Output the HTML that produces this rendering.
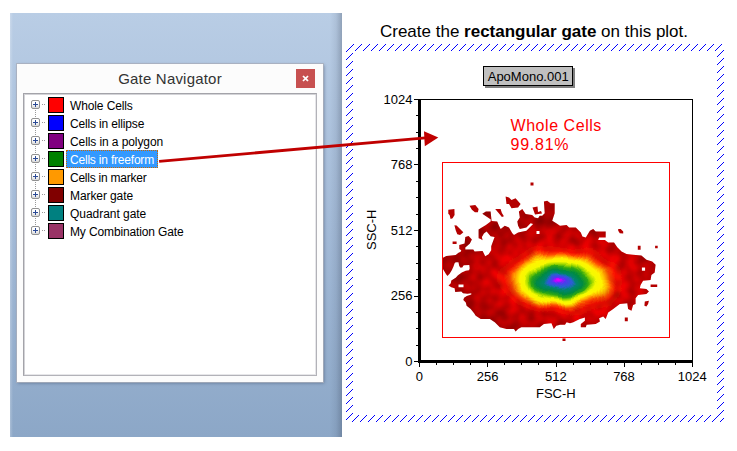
<!DOCTYPE html>
<html>
<head>
<meta charset="utf-8">
<style>
html,body{margin:0;padding:0;background:#fff;}
body{width:737px;height:451px;position:relative;overflow:hidden;font-family:"Liberation Sans",sans-serif;}
.abs{position:absolute;}
#bluebg{left:10px;top:13px;width:332px;height:424px;background:linear-gradient(to bottom,#b9cde5 0%,#a3bad7 50%,#8ca7c7 100%);}
#bluebg:after{content:"";position:absolute;right:0;top:0;width:12px;height:100%;background:linear-gradient(to right,rgba(40,50,70,0) 0%,rgba(40,50,70,0.08) 50%,rgba(40,50,70,0.28) 100%);}
#bluebg:before{content:"";position:absolute;left:0;top:0;width:3px;height:100%;background:linear-gradient(to right,rgba(255,255,255,0.25),rgba(255,255,255,0));}
#panel{left:17px;top:64px;width:306px;height:318px;background:#fcfcfc;box-shadow:0 0 0 1px rgba(170,175,188,0.8),1px 1px 3px rgba(40,55,85,0.5);}
#ptitle{left:17px;top:69px;width:306px;text-align:center;font-size:15px;line-height:20px;color:#333;letter-spacing:0.2px;}
#close{left:296px;top:69px;width:19px;height:19px;background:#c75050;}
#tree{left:23px;top:93px;width:292px;height:281px;background:#fff;border:1px solid #a3a3a9;border-right-color:#b2b2b8;border-bottom-color:#b2b2b8;box-shadow:inset 1px 1px 0 #d3d3d7, inset -1px -1px 0 #e6e6e9;}
.row{position:absolute;left:0;height:18px;width:300px;}
.sw{position:absolute;left:48px;width:14px;height:14px;border:1px solid #000;}
.lbl{position:absolute;left:70px;font-size:12px;line-height:18px;color:#000;white-space:nowrap;}
.plus{position:absolute;left:31px;width:7px;height:7px;border:1px solid #919191;border-radius:2px;background:linear-gradient(to bottom,#fff 0%,#fff 40%,#d8d8d8 100%);}
.plus:before{content:"";position:absolute;left:1px;top:3px;width:5px;height:1px;background:#2b4a96;}
.plus:after{content:"";position:absolute;left:3px;top:1px;width:1px;height:5px;background:#2b4a96;}
</style>
</head>
<body>
<div id="bluebg" class="abs"></div>
<div id="panel" class="abs"></div>
<div id="ptitle" class="abs">Gate Navigator</div>
<div id="close" class="abs"><svg width="19" height="19" style="display:block"><path d="M7.6 7.6 L11.4 11.4 M11.4 7.6 L7.6 11.4" stroke="#fff" stroke-width="1.7" stroke-linecap="square"/></svg></div>
<div id="tree" class="abs"></div>
<!--ROWS--><svg class="abs" style="left:0;top:0" width="340" height="400" shape-rendering="crispEdges"><rect x="42" y="104" width="1" height="1" fill="#9a9a9a"/><rect x="44" y="104" width="1" height="1" fill="#9a9a9a"/><rect x="35" y="110" width="1" height="1" fill="#9a9a9a"/><rect x="35" y="112" width="1" height="1" fill="#9a9a9a"/><rect x="35" y="114" width="1" height="1" fill="#9a9a9a"/><rect x="35" y="116" width="1" height="1" fill="#9a9a9a"/><rect x="42" y="122" width="1" height="1" fill="#9a9a9a"/><rect x="44" y="122" width="1" height="1" fill="#9a9a9a"/><rect x="35" y="128" width="1" height="1" fill="#9a9a9a"/><rect x="35" y="130" width="1" height="1" fill="#9a9a9a"/><rect x="35" y="132" width="1" height="1" fill="#9a9a9a"/><rect x="35" y="134" width="1" height="1" fill="#9a9a9a"/><rect x="42" y="140" width="1" height="1" fill="#9a9a9a"/><rect x="44" y="140" width="1" height="1" fill="#9a9a9a"/><rect x="35" y="146" width="1" height="1" fill="#9a9a9a"/><rect x="35" y="148" width="1" height="1" fill="#9a9a9a"/><rect x="35" y="150" width="1" height="1" fill="#9a9a9a"/><rect x="35" y="152" width="1" height="1" fill="#9a9a9a"/><rect x="42" y="158" width="1" height="1" fill="#9a9a9a"/><rect x="44" y="158" width="1" height="1" fill="#9a9a9a"/><rect x="35" y="164" width="1" height="1" fill="#9a9a9a"/><rect x="35" y="166" width="1" height="1" fill="#9a9a9a"/><rect x="35" y="168" width="1" height="1" fill="#9a9a9a"/><rect x="35" y="170" width="1" height="1" fill="#9a9a9a"/><rect x="42" y="176" width="1" height="1" fill="#9a9a9a"/><rect x="44" y="176" width="1" height="1" fill="#9a9a9a"/><rect x="35" y="182" width="1" height="1" fill="#9a9a9a"/><rect x="35" y="184" width="1" height="1" fill="#9a9a9a"/><rect x="35" y="186" width="1" height="1" fill="#9a9a9a"/><rect x="35" y="188" width="1" height="1" fill="#9a9a9a"/><rect x="42" y="194" width="1" height="1" fill="#9a9a9a"/><rect x="44" y="194" width="1" height="1" fill="#9a9a9a"/><rect x="35" y="200" width="1" height="1" fill="#9a9a9a"/><rect x="35" y="202" width="1" height="1" fill="#9a9a9a"/><rect x="35" y="204" width="1" height="1" fill="#9a9a9a"/><rect x="35" y="206" width="1" height="1" fill="#9a9a9a"/><rect x="42" y="212" width="1" height="1" fill="#9a9a9a"/><rect x="44" y="212" width="1" height="1" fill="#9a9a9a"/><rect x="35" y="218" width="1" height="1" fill="#9a9a9a"/><rect x="35" y="220" width="1" height="1" fill="#9a9a9a"/><rect x="35" y="222" width="1" height="1" fill="#9a9a9a"/><rect x="35" y="224" width="1" height="1" fill="#9a9a9a"/><rect x="42" y="230" width="1" height="1" fill="#9a9a9a"/><rect x="44" y="230" width="1" height="1" fill="#9a9a9a"/></svg>
<div class="plus" style="top:100px"></div><div class="sw" style="top:97px;background:#ff0000"></div><div class="lbl" id="l0" style="top:97px;letter-spacing:-0.12px;">Whole Cells</div>
<div class="plus" style="top:118px"></div><div class="sw" style="top:115px;background:#0000ff"></div><div class="lbl" id="l1" style="top:115px;letter-spacing:-0.16px;">Cells in ellipse</div>
<div class="plus" style="top:136px"></div><div class="sw" style="top:133px;background:#800080"></div><div class="lbl" id="l2" style="top:133px;letter-spacing:-0.09px;">Cells in a polygon</div>
<div class="plus" style="top:154px"></div><div class="sw" style="top:151px;background:#008000"></div><div class="abs" style="left:66px;top:150px;width:92px;height:18px;background:#3399ff;box-sizing:border-box;border:1px dotted #cc6600"></div><div class="lbl" id="l3" style="top:151px;letter-spacing:-0.2px;color:#fff;">Cells in freeform</div>
<div class="plus" style="top:172px"></div><div class="sw" style="top:169px;background:#ff9900"></div><div class="lbl" id="l4" style="top:169px;letter-spacing:-0.24px;">Cells in marker</div>
<div class="plus" style="top:190px"></div><div class="sw" style="top:187px;background:#800000"></div><div class="lbl" id="l5" style="top:187px;letter-spacing:-0.09px;">Marker gate</div>
<div class="plus" style="top:208px"></div><div class="sw" style="top:205px;background:#008080"></div><div class="lbl" id="l6" style="top:205px;letter-spacing:-0.04px;">Quadrant gate</div>
<div class="plus" style="top:226px"></div><div class="sw" style="top:223px;background:#993366"></div><div class="lbl" id="l7" style="top:223px;letter-spacing:-0.13px;">My Combination Gate</div><!--/ROWS-->
<!--PLOT--><svg class="abs" style="left:0;top:0" width="737" height="451" viewBox="0 0 737 451">
<defs>
<pattern id="hatch" patternUnits="userSpaceOnUse" x="0" y="0" width="8" height="8"><g fill="#0000ff" shape-rendering="crispEdges"><rect x="0" y="5" width="1" height="1"/><rect x="1" y="4" width="1" height="1"/><rect x="2" y="3" width="1" height="1"/><rect x="3" y="2" width="1" height="1"/><rect x="4" y="1" width="1" height="1"/><rect x="5" y="0" width="1" height="1"/><rect x="6" y="7" width="1" height="1"/><rect x="7" y="6" width="1" height="1"/></g></pattern>
<radialGradient id="dens" gradientUnits="userSpaceOnUse" cx="2.5" cy="-9" fx="0" fy="0" r="100" gradientTransform="translate(559.3 282.9) rotate(2) scale(1.06 0.57)">
<stop offset="0" stop-color="#f000ff"/>
<stop offset="0.025" stop-color="#c800ff"/>
<stop offset="0.06" stop-color="#5038f0"/>
<stop offset="0.105" stop-color="#2860d0"/>
<stop offset="0.14" stop-color="#008470"/>
<stop offset="0.20" stop-color="#008a40"/>
<stop offset="0.264" stop-color="#30a810"/>
<stop offset="0.305" stop-color="#a0d800"/>
<stop offset="0.345" stop-color="#f4fa00"/>
<stop offset="0.39" stop-color="#fff400"/>
<stop offset="0.43" stop-color="#ffb000"/>
<stop offset="0.475" stop-color="#ff4c00"/>
<stop offset="0.53" stop-color="#f81000"/>
<stop offset="0.64" stop-color="#ec0000"/>
<stop offset="0.78" stop-color="#d80000"/>
<stop offset="0.92" stop-color="#c60000"/>
<stop offset="1.05" stop-color="#b80000"/>
</radialGradient>
<filter id="wob" filterUnits="userSpaceOnUse" x="430" y="170" width="250" height="180"><feTurbulence type="fractalNoise" baseFrequency="0.055" numOctaves="1" seed="7" result="n"/><feDisplacementMap in="SourceGraphic" in2="n" scale="11" xChannelSelector="R" yChannelSelector="G"/></filter>
<filter id="mot" filterUnits="userSpaceOnUse" x="425" y="165" width="260" height="190" color-interpolation-filters="sRGB"><feTurbulence type="fractalNoise" baseFrequency="0.11" numOctaves="1" seed="3"/><feColorMatrix type="matrix" values="0 0 0 0 0  0 0 0 0 0  0 0 0 0 0  0.55 0 0 0 -0.17"/></filter>
<radialGradient id="mg" gradientUnits="userSpaceOnUse" cx="560" cy="279" r="100" gradientTransform="translate(560 279) scale(0.62 0.36) translate(-560 -279)"><stop offset="0.7" stop-color="#000"/><stop offset="1.4" stop-color="#fff"/></radialGradient><mask id="redonly" maskUnits="userSpaceOnUse" x="425" y="165" width="260" height="190"><rect x="425" y="165" width="260" height="190" fill="url(#mg)"/></mask>
<clipPath id="blobclip"><path d="M443,268.9 L443,257.8 L446.3,256.1 L455.7,255 L458.5,252.8 L460.7,251.7 L461.3,250.2 L459.3,248.9 L459.3,244.9 L464.6,243.6 L465.3,236.9 L468.6,235.9 L471.9,239.6 L469.9,243.6 L465.3,247.6 L465.3,249.6 L473.3,249.6 L474.6,251.6 L482.6,250.9 L485.2,256.2 L488.6,254.2 L491.2,250.2 L491.2,246.3 L494.6,236.9 L490.6,236.3 L486.6,231.6 L483.9,233.6 L481.9,236.9 L482.6,240.3 L480.6,238.9 L478.6,238.3 L478.6,229.6 L482.6,227 L485.9,225 L490.6,221.6 L490.8,219.6 L482.3,213.7 L485.9,211.4 L490.6,211.4 L491.6,221 L497.2,221.6 L499,225.7 L500.7,229 L504.8,225.7 L509,227.4 L512.3,233.2 L514,234.9 L518.1,232.4 L526.4,230.7 L533.1,224.1 L530.6,223.2 L526.4,227.4 L519.8,229 L518.1,225.7 L517.3,221.6 L519.8,217.4 L518.9,211.6 L522.3,209.1 L525.6,214.1 L532.2,214.9 L534.7,217.4 L538.1,218.3 L539.7,215.8 L542.2,215.8 L544.7,213.3 L543.9,201.6 L547.2,200.8 L550.5,203.3 L554.7,203.3 L554.7,213.3 L552.2,220.7 L556.3,223.2 L560,225.7 L566.6,224.9 L569.1,227.4 L575.8,227.4 L580.8,232.4 L582.4,236.5 L585.8,237.4 L589.9,230.7 L593.2,229 L595.7,231.5 L605.7,231.5 L605.7,237.4 L599.1,237.4 L598.2,239.9 L604.9,239.9 L608.2,242.4 L614,242.4 L617.3,247.3 L621.5,251.5 L626.5,254 L633.1,254.8 L641.4,255.6 L646.4,259.8 L652.2,261.5 L655.6,264.8 L654.7,272.5 L651.4,275 L650.6,280 L643.1,280.8 L640.6,284.9 L639.8,288.3 L646.4,289.1 L648.9,291.6 L646.4,294.1 L638.1,294.9 L635.6,298.2 L635.6,304.1 L633.1,304.9 L631.5,310.7 L628.1,309 L627.3,303.2 L619.8,304.1 L613.2,309 L608.2,312.4 L605.7,319 L603.2,316.5 L599.1,318.2 L599.9,321.5 L595.7,324 L586.6,324.8 L585.8,327.3 L580.8,327.3 L580.8,324 L584.9,320.7 L584.9,317.4 L579.9,319 L573.3,322.3 L570,323.2 L566.6,322.3 L565,324.8 L560,324.8 L556.3,325.7 L553.8,329 L551.4,323.2 L543.9,324 L539.7,327.3 L521.4,327.3 L518.1,329 L515.6,331.5 L514,329 L506.5,329 L499.8,327.3 L494.8,322.3 L489.9,319 L480.7,319 L475.7,315.7 L474.1,313.2 L470.7,309 L466.6,305.7 L465.8,302.4 L463.3,299.9 L464.1,297.7 L466.8,296 L471.3,294.4 L471.3,293.3 L467.4,293.8 L463,293.3 L461.3,291.6 L455.2,292.1 L454.6,288.3 L451.3,287.2 L448.5,285.5 L450.8,283.3 L451.3,280.5 L455.7,277.7 L458,275.3 L461.8,272.5 L465.7,270.8 L469.1,270.2 L469.7,268.3 L469.3,265 L463.7,265.3 L462.2,267.5 L460.2,267.5 L459.1,265.5 L458.5,262.2 L455.7,262.2 L454.6,263.3 L453.5,266.6 L451.9,270 L449.6,273.8 L447.4,276.1 L445.8,273.8ZM536.5,231 L539.5,231 L539.5,234 L536.5,234ZM458.5,284.4 L463.5,284.4 L463.5,287.2 L458.5,287.2ZM641.9,267.5 L645.1,267.5 L645.1,270.8 L641.9,270.8Z" clip-rule="evenodd"/></clipPath>
</defs>
<g fill="url(#hatch)"><rect x="346" y="44" width="378" height="7"/><rect x="346" y="415" width="378" height="7"/><rect x="346" y="44" width="7" height="378"/><rect x="717" y="44" width="7" height="378"/></g>
<rect x="485" y="68" width="90" height="20" fill="#808080"/><rect x="483.5" y="66.5" width="89" height="19" fill="#c0c0c0" stroke="#000" stroke-width="1"/>
<text x="528.2" y="80.6" font-size="13" text-anchor="middle" fill="#000">ApoMono.001</text>
<g clip-path="url(#blobclip)"><rect x="425" y="165" width="260" height="190" fill="url(#dens)" filter="url(#wob)"/><rect x="425" y="165" width="260" height="190" fill="#600" filter="url(#mot)" mask="url(#redonly)"/></g><path d="M448.3,209.7 L454.4,209 L454.6,215 L452.6,218.3 L450.6,219 L449.6,215 L448.3,213.7ZM469.5,205.7 L475.3,205 L478.6,209 L477.9,212.3 L474.9,212.3 L471.9,209.7ZM495.2,209 L500.6,209 L501.9,213 L503.9,216.3 L501.9,217 L498.6,213ZM454.4,225.2 L456.6,225.6 L463.3,232.3 L462,233.6 L460,234.9 L457.3,234.3 L455.7,230.3ZM452.6,241.6 L456.6,241.6 L456.6,243.9 L452.6,243.9ZM505.6,196.6 L509,197.5 L511.5,200 L515.6,198.3 L520.6,204.1 L518.1,207.5 L511.5,208.3 L509,204.1 L506.5,204.1ZM530.5,182.5 L533.5,182.5 L533.5,185.5 L530.5,185.5ZM532.5,207.5 L537.5,206.5 L538,212 L541,211 L542,213.5 L535,214.5ZM618.2,229 L620.7,229 L623.2,231.5 L623.2,233.5 L619.8,233.2 L618.2,230.7ZM637.8,245.7 L640.6,245.7 L640.6,249.8 L637.8,249.8ZM655.1,245.7 L657.7,245.7 L657.7,248.2 L655.1,248.2ZM650.6,284.6 L657.2,284.6 L657.2,286.9 L650.6,286.9ZM644.8,301.6 L648.9,300.7 L648.1,304.1 L646.4,306.5 L644.4,305.7ZM624.8,317.4 L627.8,317.4 L627.8,321.2 L624.8,321.2ZM562.5,338.5 L565.5,338.5 L565.5,341 L562.5,341Z" fill="#b40000"/>
<rect x="442.5" y="162.5" width="227" height="175" fill="none" stroke="#ff0000" stroke-width="1" shape-rendering="crispEdges"/>
<g fill="#000" shape-rendering="crispEdges"><rect x="418" y="99" width="3" height="264"/><rect x="418" y="360" width="275" height="3"/><rect x="418" y="99" width="275" height="1"/><rect x="692" y="99" width="1" height="264"/><rect x="414" y="361" width="4" height="1"/><rect x="419" y="363" width="1" height="4"/><rect x="416" y="345" width="2" height="1"/><rect x="436" y="363" width="1" height="2"/><rect x="416" y="328" width="2" height="1"/><rect x="453" y="363" width="1" height="2"/><rect x="416" y="312" width="2" height="1"/><rect x="470" y="363" width="1" height="2"/><rect x="414" y="296" width="4" height="1"/><rect x="487" y="363" width="1" height="4"/><rect x="416" y="279" width="2" height="1"/><rect x="504" y="363" width="1" height="2"/><rect x="416" y="263" width="2" height="1"/><rect x="521" y="363" width="1" height="2"/><rect x="416" y="246" width="2" height="1"/><rect x="538" y="363" width="1" height="2"/><rect x="414" y="230" width="4" height="1"/><rect x="556" y="363" width="1" height="4"/><rect x="416" y="214" width="2" height="1"/><rect x="573" y="363" width="1" height="2"/><rect x="416" y="197" width="2" height="1"/><rect x="590" y="363" width="1" height="2"/><rect x="416" y="181" width="2" height="1"/><rect x="607" y="363" width="1" height="2"/><rect x="414" y="164" width="4" height="1"/><rect x="624" y="363" width="1" height="4"/><rect x="416" y="148" width="2" height="1"/><rect x="641" y="363" width="1" height="2"/><rect x="416" y="132" width="2" height="1"/><rect x="658" y="363" width="1" height="2"/><rect x="416" y="115" width="2" height="1"/><rect x="675" y="363" width="1" height="2"/><rect x="414" y="99" width="4" height="1"/><rect x="692" y="363" width="1" height="4"/></g>
<g font-size="13" fill="#000"><text x="412.5" y="365.6" text-anchor="end">0</text><text x="419.3" y="381" text-anchor="middle">0</text><text x="412.5" y="300.1" text-anchor="end">256</text><text x="487.6" y="381" text-anchor="middle">256</text><text x="412.5" y="234.6" text-anchor="end">512</text><text x="555.8" y="381" text-anchor="middle">512</text><text x="412.5" y="169.1" text-anchor="end">768</text><text x="624.0" y="381" text-anchor="middle">768</text><text x="412.5" y="103.6" text-anchor="end">1024</text><text x="692.3" y="381" text-anchor="middle">1024</text><text x="555.8" y="398.3" text-anchor="middle">FSC-H</text><text transform="translate(376.3 229.8) rotate(-90)" text-anchor="middle">SSC-H</text></g>
<g font-size="16" fill="#ff0000"><text x="510.5" y="130.8" letter-spacing="0.55">Whole Cells</text><text x="510.5" y="149.7" letter-spacing="0.75">99.81%</text></g>
<g fill="#c00000" stroke="none"><path d="M159,160.0 L159.2,162.8 L425.5,139.3 L425.3,136.4Z"/><path d="M424,131.3 L438.3,137.6 L424.8,146.2Z"/></g>
</svg>
<div class="abs" id="cap" style="left:345px;top:22px;width:378px;text-align:center;font-size:17px;line-height:20px;color:#000;white-space:nowrap">Create the <b>rectangular gate</b> on this plot.</div><!--/PLOT-->
</body>
</html>
